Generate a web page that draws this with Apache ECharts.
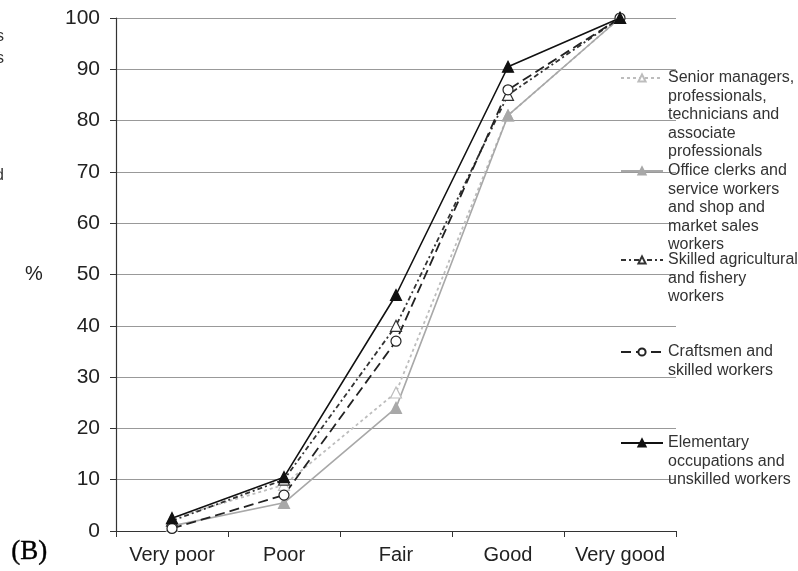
<!DOCTYPE html>
<html>
<head>
<meta charset="utf-8">
<script src="https://cdn.jsdelivr.net/npm/echarts@6/dist/echarts.min.js"></script>
<style>
  html, body { margin: 0; padding: 0; background: #fff; }
  #main { width: 798px; height: 571px; }
</style>
</head>
<body>
<div id="main"></div>
<script>
// categories on the x axis
var categories = ['Very poor', 'Poor', 'Fair', 'Good', 'Very good'];
var yTicks = [0, 10, 20, 30, 40, 50, 60, 70, 80, 90, 100];

// cumulative % per occupation group
var seniorManagers = [2.5, 9, 27, 81, 100];
var officeClerks = [1, 5.5, 24, 81, 100];
var skilledAgri = [2, 10, 40, 85, 100];
var craftsmen = [0.5, 7, 37, 86, 100];
var elementary = [2.5, 10.5, 46, 90.5, 100];

var seriesNames = ['Senior', 'Office', 'Skilled', 'Craftsmen', 'Elementary'];
var legendText = {
    'Senior': 'Senior managers,\nprofessionals,\ntechnicians and\nassociate\nprofessionals',
    'Office': 'Office clerks and\nservice workers\nand shop and\nmarket sales\nworkers',
    'Skilled': 'Skilled agricultural\nand fishery\nworkers',
    'Craftsmen': 'Craftsmen and\nskilled workers',
    'Elementary': 'Elementary\noccupations and\nunskilled workers'
};

var chart = echarts.init(document.getElementById('main'));
var font = '"Liberation Sans", Arial, sans-serif';
var lh = 18.5;
var legendY = [78, 171, 260, 352, 443];

function mkSeries(name, data, color, dash, symbol, fill, width) {
    return {
        name: name,
        type: 'line',
        data: data,
        symbol: symbol,
        symbolSize: symbol == 'circle' ? 10 : 11,
        z: 3,
        lineStyle: { color: color, width: width, type: dash },
        itemStyle: { color: fill, borderColor: color, borderWidth: 1.2 },
        emphasis: { disabled: true }
    };
}

// legend text is centred on the icon, so pad with blank lines on top
// to bring the first line level with the icon
function padLines(txt) {
    var n = txt.split('\n').length;
    var pre = '';
    for (var k = 1; k < n; k++) pre += ' \n';
    return pre + txt;
}

// one legend box per entry
var legends = [];
for (var i = 0; i < seriesNames.length; i++) {
    var n = legendText[seriesNames[i]].split('\n').length;
    legends.push({
        orient: 'vertical',
        left: 620,
        top: legendY[i] - (2 * n - 1) * lh / 2,
        padding: 0,
        itemWidth: 42,
        itemHeight: 9,
        data: [seriesNames[i]],
        formatter: function (name) { return padLines(legendText[name]); },
        textStyle: { fontFamily: font, fontSize: 16, color: '#333', lineHeight: lh }
    });
}

var option = {
    backgroundColor: '#fff',
    animation: false,
    grid: { left: 116, top: 18, width: 560, height: 513 },
    legend: legends,
    xAxis: {
        type: 'category',
        data: categories,
        boundaryGap: true,
        axisLine: { lineStyle: { color: '#333', width: 1.2 } },
        axisTick: { show: true, interval: 0, length: 6, lineStyle: { color: '#333' } },
        axisLabel: { interval: 0, fontFamily: font, fontSize: 20, color: '#222', margin: 14 }
    },
    yAxis: {
        type: 'value',
        min: yTicks[0],
        max: yTicks[yTicks.length - 1],
        interval: 10,
        axisLine: { show: true, lineStyle: { color: '#333', width: 1.2 } },
        axisTick: { show: true, length: 6, lineStyle: { color: '#333' } },
        axisLabel: { fontFamily: font, fontSize: 21, color: '#222', margin: 16 },
        splitLine: { show: true, lineStyle: { color: '#999', width: 1.2 } }
    },
    graphic: [
        { type: 'text', left: 25, top: 264, style: { text: '%', font: '20px ' + font, fill: '#222' } },
        { type: 'text', left: 11, top: 538, style: { text: '(B)', font: '27px "Liberation Serif", "DejaVu Serif", serif', fill: '#000', stroke: '#000', lineWidth: 0.4 } },
        // clipped text from the neighbouring panel
        { type: 'text', left: -4, top: 29, style: { text: 's', font: '16px ' + font, fill: '#333' } },
        { type: 'text', left: -4, top: 51, style: { text: 's', font: '16px ' + font, fill: '#333' } },
        { type: 'text', left: -5, top: 168, style: { text: 'd', font: '16px ' + font, fill: '#333' } }
    ],
    series: [
        mkSeries('Senior', seniorManagers, '#bdbdbd', [3, 3], 'triangle', '#fff', 1.8),
        mkSeries('Office', officeClerks, '#a8a8a8', 'solid', 'triangle', '#a8a8a8', 1.6),
        mkSeries('Skilled', skilledAgri, '#333', [5, 3, 2, 3], 'triangle', '#fff', 1.8),
        mkSeries('Craftsmen', craftsmen, '#222', [10, 5], 'circle', '#fff', 1.8),
        mkSeries('Elementary', elementary, '#111', 'solid', 'triangle', '#111', 1.6)
    ]
};

chart.setOption(option);
</script>
</body>
</html>
